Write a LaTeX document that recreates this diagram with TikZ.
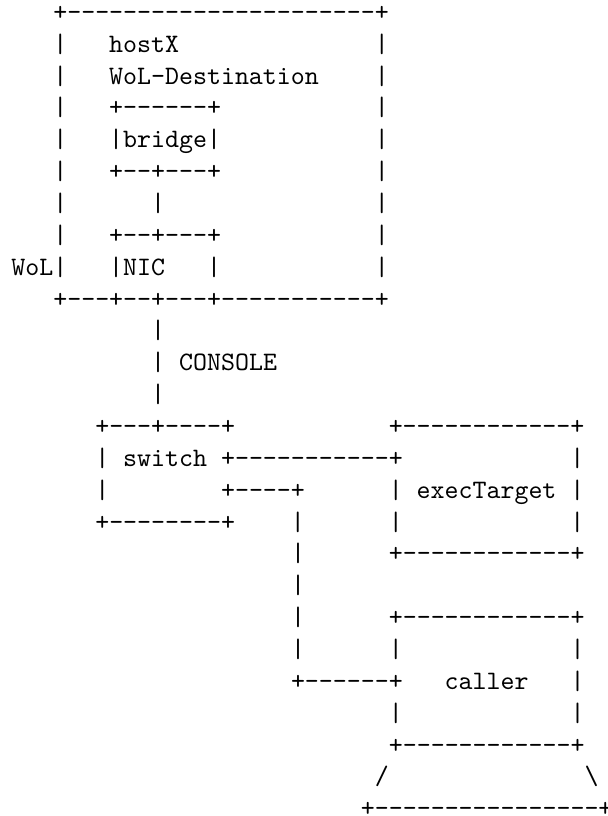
\documentclass[tikz,border=0pt]{standalone}
\usepackage{fontspec}
\newfontfamily\asc{lmmono10-regular}[Extension=.otf,WordSpace={1,0,0}]
\tikzset{
  ascii/.style={anchor=base west, inner sep=0pt, outer sep=0pt,
    font=\asc\fontsize{13.31}{16}\selectfont, text=black}
}
\newcommand\arow[4]{\node[ascii] (#1) at ({11.4+13.98*#2},{20.3+31.86*(#3-1)}) {#4};}
\begin{document}
\begin{tikzpicture}[x=0.5pt,y=-0.5pt]
\useasboundingbox (0,0) rectangle (608,816);
\arow{r1}{3}{1}{+----------------------+}
\arow{r2}{3}{2}{|~~~hostX~~~~~~~~~~~~~~|}
\arow{r3}{3}{3}{|~~~WoL-Destination~~~~|}
\arow{r4}{3}{4}{|~~~+------+~~~~~~~~~~~|}
\arow{r5}{3}{5}{|~~~|bridge|~~~~~~~~~~~|}
\arow{r6}{3}{6}{|~~~+--+---+~~~~~~~~~~~|}
\arow{r7}{3}{7}{|~~~~~~|~~~~~~~~~~~~~~~|}
\arow{r8}{3}{8}{|~~~+--+---+~~~~~~~~~~~|}
\arow{r9}{0}{9}{WoL|~~~|NIC~~~|~~~~~~~~~~~|}
\arow{r10}{3}{10}{+---+--+---+-----------+}
\arow{r11}{10}{11}{|}
\arow{r12}{10}{12}{|~CONSOLE}
\arow{r13}{10}{13}{|}
\arow{r14}{6}{14}{+---+----+~~~~~~~~~~~+------------+}
\arow{r15}{6}{15}{|~switch~+-----------+~~~~~~~~~~~~|}
\arow{r16}{6}{16}{|~~~~~~~~+----+~~~~~~|~execTarget~|}
\arow{r17}{6}{17}{+--------+~~~~|~~~~~~|~~~~~~~~~~~~|}
\arow{r18}{20}{18}{|~~~~~~+------------+}
\arow{r19}{20}{19}{|}
\arow{r20}{20}{20}{|~~~~~~+------------+}
\arow{r21}{20}{21}{|~~~~~~|~~~~~~~~~~~~|}
\arow{r22}{20}{22}{+------+~~~caller~~~|}
\arow{r23}{27}{23}{|~~~~~~~~~~~~|}
\arow{r24}{27}{24}{+------------+}
\arow{r25}{26}{25}{/~~~~~~~~~~~~~~\textbackslash}
\arow{r26}{25}{26}{+----------------+}
\end{tikzpicture}
\end{document}
